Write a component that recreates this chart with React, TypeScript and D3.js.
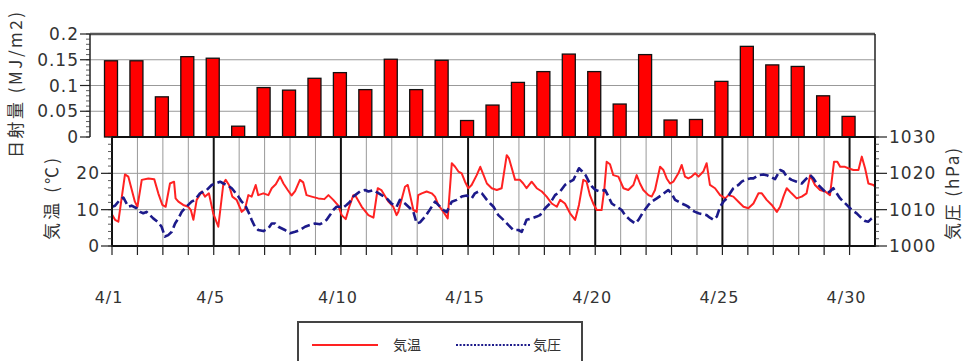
import React from 'react';
import * as d3 from 'd3';

// ---- data ----
const days = [1,2,3,4,5,6,7,8,9,10,11,12,13,14,15,16,17,18,19,20,21,22,23,24,25,26,27,28,29,30];
const radiation = [0.148,0.148,0.078,0.156,0.153,0.021,0.096,0.091,0.114,0.125,0.092,0.151,0.092,0.149,0.032,0.062,0.106,0.127,0.161,0.127,0.064,0.160,0.033,0.034,0.108,0.176,0.140,0.137,0.080,0.040];
const xLabelDays = [1,5,10,15,20,25,30];
const xLabels = ['4/1','4/5','4/10','4/15','4/20','4/25','4/30'];
const radTicks = [0,0.05,0.1,0.15,0.2];
const radTickLabels = ['0','0.05','0.1','0.15','0.2'];
const tempTicks = [0,10,20];
const presTicks = [1000,1010,1020,1030];

// time in days since 4/1 00:00
const tempTimes = [0,0.12,0.25,0.51,0.64,0.90,1.0,1.17,1.43,1.66,1.82,1.98,2.11,2.28,2.44,2.50,2.61,2.80,3.0,3.1,3.2,3.33,3.53,3.66,3.81,3.98,4.18,4.38,4.47,4.6,4.73,4.9,5.1,5.23,5.36,5.49,5.65,5.75,5.95,6.15,6.28,6.44,6.61,6.74,6.91,7.06,7.2,7.39,7.52,7.65,7.85,8.11,8.35,8.51,8.7,8.9,9.03,9.19,9.32,9.49,9.56,9.82,10.08,10.28,10.45,10.59,10.87,11.06,11.19,11.26,11.52,11.63,11.72,11.85,11.98,12.04,12.18,12.37,12.57,12.70,12.83,13.03,13.20,13.36,13.49,13.62,13.75,13.88,14.01,14.14,14.34,14.48,14.61,14.74,14.93,15.13,15.32,15.52,15.61,15.72,15.85,16.04,16.17,16.30,16.50,16.70,16.90,17.09,17.29,17.49,17.62,17.81,18.01,18.21,18.36,18.53,18.66,18.79,18.92,19.06,19.25,19.36,19.45,19.58,19.71,19.91,20.11,20.30,20.50,20.63,20.76,20.89,21.09,21.22,21.35,21.55,21.68,21.81,21.94,22.07,22.27,22.40,22.53,22.66,22.79,22.93,23.06,23.25,23.38,23.51,23.71,23.91,24.11,24.24,24.43,24.63,24.83,25.02,25.22,25.42,25.55,25.74,25.94,26.14,26.27,26.40,26.53,26.72,26.92,27.12,27.31,27.45,27.64,27.84,28.04,28.23,28.39,28.52,28.63,28.82,28.95,29.15,29.35,29.48,29.61,29.74,29.94,30.0];
const tempValues = [8.7,7.2,6.7,19.7,19.1,12.2,10.8,18.2,18.6,18.4,14.5,11.3,10.8,17.2,17.7,13.1,12.2,11.3,10.8,9.9,7.2,12.7,15.0,13.6,14.5,9.0,5.3,17.2,18.2,16.8,13.6,12.7,9.4,10.2,14.0,13.6,16.8,14.0,14.5,14.0,15.9,17.0,19.1,17.2,15.4,13.9,15.1,18.2,17.5,14.0,13.6,13.1,12.9,14.0,12.7,11.1,8.5,7.4,10.6,14.0,14.0,10.8,8.5,7.8,15.9,15.4,12.2,10.8,8.5,9.4,16.3,16.8,14.0,9.9,9.4,14.0,14.5,15.0,14.5,13.6,11.3,9.4,7.6,22.8,21.8,20.5,20.0,17.7,15.9,16.8,19.5,21.8,19.5,17.2,15.9,15.4,15.9,25.0,24.1,21.4,18.2,18.2,17.2,15.9,17.7,15.9,15.0,13.6,11.7,10.8,12.7,11.7,9.0,7.2,11.3,18.2,17.7,14.0,11.7,9.9,9.9,15.9,23.2,22.5,19.5,19.1,15.9,15.4,16.8,19.5,17.2,15.4,14.0,13.6,15.4,21.8,20.9,18.6,17.2,17.7,20.0,22.3,19.1,18.6,19.1,20.0,19.1,20.5,22.8,16.8,15.9,14.0,13.1,14.0,13.6,12.2,10.8,10.4,11.7,14.5,14.5,12.7,11.3,9.4,10.8,13.6,15.9,14.5,13.1,13.6,14.5,19.5,16.8,15.4,15.0,14.0,23.2,23.2,21.8,21.8,21.4,20.9,20.9,24.6,21.4,17.2,16.8,16.3];

const presTimes = [0,0.12,0.31,0.45,0.64,0.77,0.97,1.10,1.23,1.36,1.49,1.62,1.82,1.95,2.08,2.21,2.35,2.48,2.61,2.74,2.87,3.0,3.13,3.26,3.46,3.59,3.72,3.92,4.25,4.38,4.51,4.71,4.97,5.10,5.23,5.36,5.49,5.62,5.75,5.95,6.15,6.28,6.41,6.54,6.80,7.0,7.2,7.39,7.59,7.79,7.98,8.18,8.31,8.44,8.57,8.70,8.83,8.96,9.09,9.22,9.36,9.49,9.56,9.75,9.95,10.08,10.28,10.41,10.6,10.8,10.99,11.19,11.32,11.52,11.72,11.85,11.98,12.11,12.31,12.44,12.70,12.90,13.03,13.16,13.36,13.55,13.75,13.94,14.14,14.27,14.41,14.54,14.74,14.87,15.0,15.19,15.39,15.58,15.78,15.98,16.11,16.30,16.50,16.70,16.83,17.03,17.22,17.42,17.62,17.81,18.01,18.14,18.36,18.49,18.62,18.75,18.88,19.01,19.19,19.39,19.52,19.65,19.84,20.04,20.17,20.37,20.57,20.70,20.89,21.09,21.22,21.42,21.61,21.87,22.0,22.14,22.27,22.40,22.53,22.66,22.79,22.93,23.06,23.25,23.38,23.51,23.65,23.78,23.91,24.04,24.17,24.30,24.43,24.63,24.76,24.89,25.09,25.22,25.42,25.61,25.74,25.87,26.07,26.27,26.40,26.53,26.72,26.92,27.12,27.31,27.45,27.58,27.71,27.9,28.1,28.23,28.36,28.63,28.76,28.89,29.09,29.28,29.48,29.61,29.74,29.87,30.0];
const presValues = [1010.8,1011.1,1012.7,1013.3,1010.8,1011.1,1010.4,1009.4,1009.0,1009.4,1008.5,1007.6,1006.5,1005.3,1002.6,1003.0,1003.9,1006.2,1007.6,1009.4,1010.4,1011.3,1012.2,1012.7,1014.5,1015.0,1015.4,1016.8,1017.7,1017.2,1016.8,1015.9,1013.6,1012.2,1011.3,1009.4,1007.2,1005.3,1004.4,1004.1,1004.9,1006.2,1006.2,1005.3,1004.4,1003.5,1003.9,1004.4,1005.3,1005.8,1006.2,1006.0,1006.5,1007.2,1008.5,1009.9,1010.8,1010.8,1010.6,1011.3,1012.2,1013.6,1014.0,1015.0,1015.4,1015.0,1015.4,1014.8,1014.0,1013.1,1011.7,1010.8,1012.7,1011.7,1010.4,1009.4,1006.2,1006.5,1008.1,1009.4,1012.2,1010.8,1009.9,1009.3,1012.2,1012.7,1013.6,1013.9,1013.1,1014.5,1015.0,1014.5,1012.7,1011.7,1010.8,1008.5,1007.2,1005.8,1004.4,1004.4,1003.9,1007.2,1007.6,1008.1,1008.5,1010.4,1011.7,1014.0,1015.0,1016.8,1017.7,1018.2,1021.4,1020.5,1019.5,1017.7,1016.3,1015.4,1015.0,1015.4,1013.6,1011.7,1010.8,1009.9,1008.5,1007.2,1006.2,1007.2,1009.4,1011.3,1012.2,1013.1,1014.0,1015.4,1014.5,1012.7,1012.2,1011.7,1011.3,1010.8,1009.9,1009.4,1009.0,1008.7,1008.5,1007.8,1007.2,1008.1,1010.8,1012.2,1013.1,1014.5,1015.9,1016.8,1017.7,1018.2,1018.6,1018.6,1019.5,1019.7,1019.5,1019.1,1018.4,1020.9,1020.5,1019.1,1018.2,1017.7,1017.2,1018.6,1019.5,1018.6,1017.2,1015.9,1014.5,1015.0,1015.9,1013.1,1012.2,1011.3,1009.9,1009.0,1007.6,1006.9,1006.7,1007.6,1008.1];

const NUM_FONT = '"DejaVu Sans", sans-serif';
const JP_FONT = '"Noto Sans CJK JP", sans-serif';
const TXT = '#333';

export default function App() {
  const W = 966, H = 361;
  const top = { left: 90, right: 875, top: 34, bottom: 137 };
  const bot = { left: 112, right: 875, top: 137, bottom: 246 };

  const x = d3.scaleLinear().domain([0, 30]).range([bot.left, bot.right]);
  const yRad = d3.scaleLinear().domain([0, 0.2]).range([top.bottom, top.top]);
  const yTemp = d3.scaleLinear().domain([0, 30]).range([bot.bottom, bot.top]);
  const yPres = d3.scaleLinear().domain([1000, 1030]).range([bot.bottom, bot.top]);

  const tempLine = d3.line<number>().x((_, i) => x(tempTimes[i])).y((v) => yTemp(v))(tempValues) || '';
  const presLine = d3.line<number>().x((_, i) => x(presTimes[i])).y((v) => yPres(v))(presValues) || '';

  const radMinor = d3.range(0, 0.2001, 0.01);
  const tempMinor = d3.range(0, 30.01, 2);
  const presMinor = d3.range(1000, 1030.01, 2);
  const barW = 13;

  return (
    <svg width={W} height={H} style={{ position: 'absolute', left: 0, top: 0, background: '#fff' }}>
      {/* ---------- top panel ---------- */}
      {radTicks.slice(1, -1).map((v) => (
        <line key={'rg' + v} x1={top.left} x2={top.right} y1={yRad(v)} y2={yRad(v)} stroke="#999" strokeWidth={1} />
      ))}
      {days.map((d, i) => (
        <rect key={'b' + d} x={x(d - 1) - barW / 2 - 1} y={yRad(radiation[i])} width={barW}
          height={yRad(0) - yRad(radiation[i])} fill="#ff0000" stroke="#111" strokeWidth={1.3} />
      ))}
      <line x1={top.left} x2={top.right} y1={top.top} y2={top.top} stroke="#555" strokeWidth={2.5} />
      <line x1={top.left} x2={top.left} y1={top.top} y2={top.bottom} stroke="#222" strokeWidth={1.5} />
      <line x1={top.right} x2={top.right} y1={top.top} y2={top.bottom} stroke="#222" strokeWidth={1.5} />
      {radMinor.map((v) => (
        <line key={'rm' + v} x1={top.left - 4} x2={top.left} y1={yRad(v)} y2={yRad(v)} stroke="#333" strokeWidth={0.8} />
      ))}
      {radTicks.map((v, i) => (
        <g key={'rt' + v}>
          <line x1={top.left - 10} x2={top.left} y1={yRad(v)} y2={yRad(v)} stroke="#222" strokeWidth={1.2} />
          <text x={top.left - 11} y={yRad(v)} dy="0.36em" textAnchor="end" fontFamily={NUM_FONT} fontSize={17}
            letterSpacing={1} fill={TXT}>{radTickLabels[i]}</text>
        </g>
      ))}
      <text transform={`translate(22,${85}) rotate(-90)`} textAnchor="middle" fontFamily={JP_FONT} fontSize={17}
        fill={TXT} textLength={146} lengthAdjust="spacing">日射量 (MJ/m2)</text>

      {/* ---------- bottom panel ---------- */}
      {days.map((d) => (
        d % 5 !== 0 ? <line key={'vg' + d} x1={x(d - 1)} x2={x(d - 1)} y1={bot.top} y2={bot.bottom} stroke="#999" strokeWidth={1} /> : null
      ))}
      {tempTicks.slice(1).map((v) => (
        <line key={'hg' + v} x1={bot.left} x2={bot.right} y1={yTemp(v)} y2={yTemp(v)} stroke="#999" strokeWidth={1} />
      ))}
      {days.filter((d) => d % 5 === 0).map((d) => (
        <line key={'vt' + d} x1={x(d - 1)} x2={x(d - 1)} y1={bot.top} y2={bot.bottom} stroke="#111" strokeWidth={2} />
      ))}
      <path d={tempLine} fill="none" stroke="#f22" strokeWidth={2} strokeLinejoin="round" />
      <path d={presLine} fill="none" stroke="#1c1a8a" strokeWidth={2.6} strokeDasharray="9,4" strokeLinejoin="round" />
      <rect x={bot.left} y={bot.top} width={bot.right - bot.left} height={bot.bottom - bot.top} fill="none" stroke="#111" strokeWidth={2} />

      {tempMinor.map((v) => (
        <line key={'tm' + v} x1={bot.left - 4} x2={bot.left} y1={yTemp(v)} y2={yTemp(v)} stroke="#333" strokeWidth={0.8} />
      ))}
      {tempTicks.map((v) => (
        <g key={'tt' + v}>
          <line x1={bot.left - 11} x2={bot.left} y1={yTemp(v)} y2={yTemp(v)} stroke="#222" strokeWidth={1.2} />
          <text x={bot.left - 12} y={yTemp(v)} dy="0.36em" textAnchor="end" fontFamily={NUM_FONT} fontSize={17}
            letterSpacing={1} fill={TXT}>{v}</text>
        </g>
      ))}
      <text transform={`translate(58,${199}) rotate(-90)`} textAnchor="middle" fontFamily={JP_FONT} fontSize={17}
        fill={TXT} textLength={82} lengthAdjust="spacing">気温 (℃)</text>

      {presMinor.map((v) => (
        <line key={'pm' + v} x1={bot.right} x2={bot.right + 4} y1={yPres(v)} y2={yPres(v)} stroke="#333" strokeWidth={0.8} />
      ))}
      {presTicks.map((v) => (
        <g key={'pt' + v}>
          <line x1={bot.right} x2={bot.right + 12} y1={yPres(v)} y2={yPres(v)} stroke="#222" strokeWidth={1.2} />
          <text x={bot.right + 14} y={yPres(v)} dy="0.36em" textAnchor="start" fontFamily={NUM_FONT} fontSize={17}
            letterSpacing={1} fill={TXT}>{v}</text>
        </g>
      ))}
      <text transform={`translate(959,${194}) rotate(-90)`} textAnchor="middle" fontFamily={JP_FONT} fontSize={17}
        fill={TXT} textLength={92} lengthAdjust="spacing">気圧 (hPa)</text>

      {/* x axis ticks */}
      {days.map((d) => (
        <line key={'xt' + d} x1={x(d - 1)} x2={x(d - 1)} y1={bot.bottom} y2={bot.bottom + 9} stroke="#222" strokeWidth={1.2} />
      ))}
      {xLabelDays.map((d, i) => (
        <text key={'xl' + d} x={x(d - 1) - 3} y={303} textAnchor="middle" fontFamily={NUM_FONT} fontSize={16}
          letterSpacing={1} fill={TXT}>{xLabels[i]}</text>
      ))}

      {/* legend */}
      <rect x={298} y={322} width={284} height={60} fill="#fff" stroke="#444" strokeWidth={2} />
      <line x1={312} x2={378} y1={345} y2={345} stroke="#f22" strokeWidth={2} />
      <text x={393} y={345} dy="0.36em" fontFamily={JP_FONT} fontSize={14} fill={TXT}>気温</text>
      <line x1={456} x2={530} y1={345} y2={345} stroke="#1c1a8a" strokeWidth={2} strokeDasharray="2,1.6" />
      <text x={533} y={345} dy="0.36em" fontFamily={JP_FONT} fontSize={14} fill={TXT}>気圧</text>
    </svg>
  );
}
